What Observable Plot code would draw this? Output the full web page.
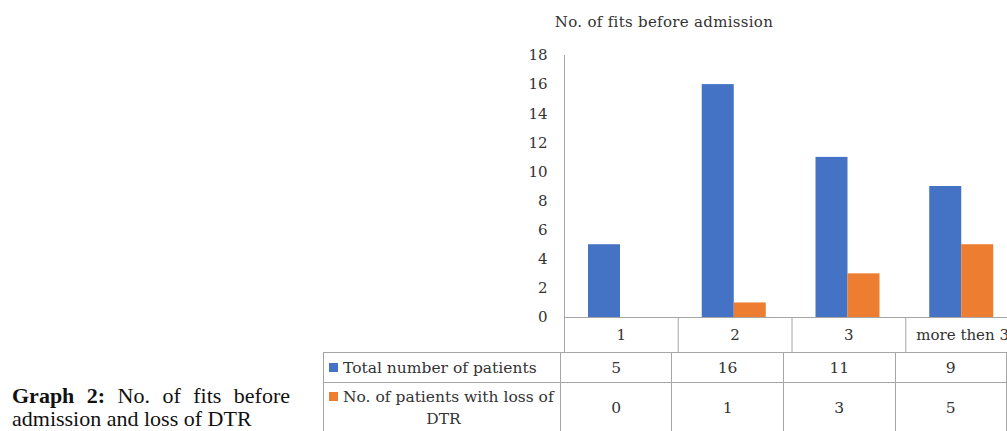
<!DOCTYPE html>
<html><head><meta charset="utf-8">
<script src="https://cdn.jsdelivr.net/npm/d3@7"></script>
<script src="https://cdn.jsdelivr.net/npm/@observablehq/plot@0.6"></script>
<style>
html,body{margin:0;padding:0;background:#fff;overflow:hidden;width:1007px;height:431px;}
#wrap{position:relative;width:1007px;height:431px;overflow:hidden;font-family:"DejaVu Serif",serif;color:#333;}
#title{position:absolute;left:464px;width:400px;top:13px;line-height:18px;text-align:center;font-size:15px;letter-spacing:0.3px;}
#chart{position:absolute;left:0;top:0;width:1019px;}
#chart svg{max-width:none !important;}
#table{position:absolute;left:323px;top:352px;border-collapse:collapse;font-size:15.5px;table-layout:fixed;}
#table td{border:1px solid #a6a6a6;text-align:center;padding:0 3px;line-height:22px;}
#table td.lab{text-align:left;padding:0 2px 0 5px;}
#table td.lab.wrap{text-align-last:center;}
#caption{position:absolute;left:12px;top:384px;width:278px;font-family:"Liberation Serif",serif;font-size:22px;line-height:23px;color:#111;}
#caption div.l1{text-align:justify;text-align-last:justify;}
.sw{display:inline-block;width:9px;height:9px;margin-right:5px;vertical-align:1px;}
</style></head><body>
<div id="wrap">
  <div id="title"></div>
  <div id="chart"></div>
  <table id="table"></table>
  <div id="caption"></div>
</div>
<script>
const categories = ["1", "2", "3", "more then 3"];
const totalPatients = [5, 16, 11, 9];
const lossOfDTR = [0, 1, 3, 5];
const seriesNames = ["Total number of patients", "No. of patients with loss of DTR"];
const seriesColors = ["#4472C4", "#ED7D31"];
const yTicks = [0, 2, 4, 6, 8, 10, 12, 14, 16, 18];
const chartTitle = "No. of fits before admission";
const captionLead = "Graph 2:";
const captionLines = ["No. of fits before", "admission and loss of DTR"];

const seriesValues = [totalPatients, lossOfDTR];
const data = categories.flatMap((c, i) => seriesNames.map((s, k) => ({cat: c, series: s, value: seriesValues[k][i]})));

const W = 1019, ML = 564;
const bw = (W - ML) / categories.length;

document.getElementById("title").textContent = chartTitle;

const plot = Plot.plot({
  width: W, height: 352,
  marginLeft: ML, marginRight: 0, marginTop: 55, marginBottom: 35,
  style: {fontFamily: "DejaVu Serif", fontSize: "15px", color: "#333", background: "transparent", overflow: "visible", maxWidth: "none"},
  x: {domain: categories, padding: 0, round: false, label: null},
  y: {domain: [0, 18], label: null},
  marks: [
    Plot.barY(data.filter(d => d.series === seriesNames[0]), {x: "cat", y: "value", fill: seriesColors[0], insetLeft: 24, insetRight: bw - 56}),
    Plot.barY(data.filter(d => d.series === seriesNames[1]), {x: "cat", y: "value", fill: seriesColors[1], insetLeft: 56, insetRight: bw - 88}),
    Plot.axisY({ticks: yTicks, tickSize: 0, tickPadding: 17, label: null}),
    Plot.axisX({tickSize: 0, tickPadding: 12, label: null}),
    Plot.axisX({tickSize: 35, tickFormat: () => "", dx: -bw / 2, stroke: "#a6a6a6", label: null}),
    Plot.ruleY([0], {stroke: "#a6a6a6"}),
    Plot.frame({anchor: "left", stroke: "#a6a6a6"})
  ]
});
document.getElementById("chart").appendChild(plot);

// data table rows below the category axis
const table = document.getElementById("table");
const colg = document.createElement("colgroup");
[241, bw, bw, bw, bw].forEach(w => { const c = document.createElement("col"); c.style.width = w + "px"; colg.appendChild(c); });
table.appendChild(colg);
const rowHeights = [30, 50];
seriesNames.forEach((s, k) => {
  const tr = document.createElement("tr");
  tr.style.height = rowHeights[k] + "px";
  const th = document.createElement("td");
  th.className = k === 1 ? "lab wrap" : "lab";
  const sw = document.createElement("span");
  sw.className = "sw"; sw.style.background = seriesColors[k];
  th.appendChild(sw);
  th.appendChild(document.createTextNode(s));
  tr.appendChild(th);
  seriesValues[k].forEach(v => { const td = document.createElement("td"); td.textContent = v; tr.appendChild(td); });
  table.appendChild(tr);
});

const cap = document.getElementById("caption");
const l1 = document.createElement("div"); l1.className = "l1";
const b = document.createElement("b"); b.textContent = captionLead;
l1.appendChild(b);
l1.appendChild(document.createTextNode(" " + captionLines[0]));
const l2 = document.createElement("div"); l2.textContent = captionLines[1];
cap.appendChild(l1); cap.appendChild(l2);
</script>
</body></html>
